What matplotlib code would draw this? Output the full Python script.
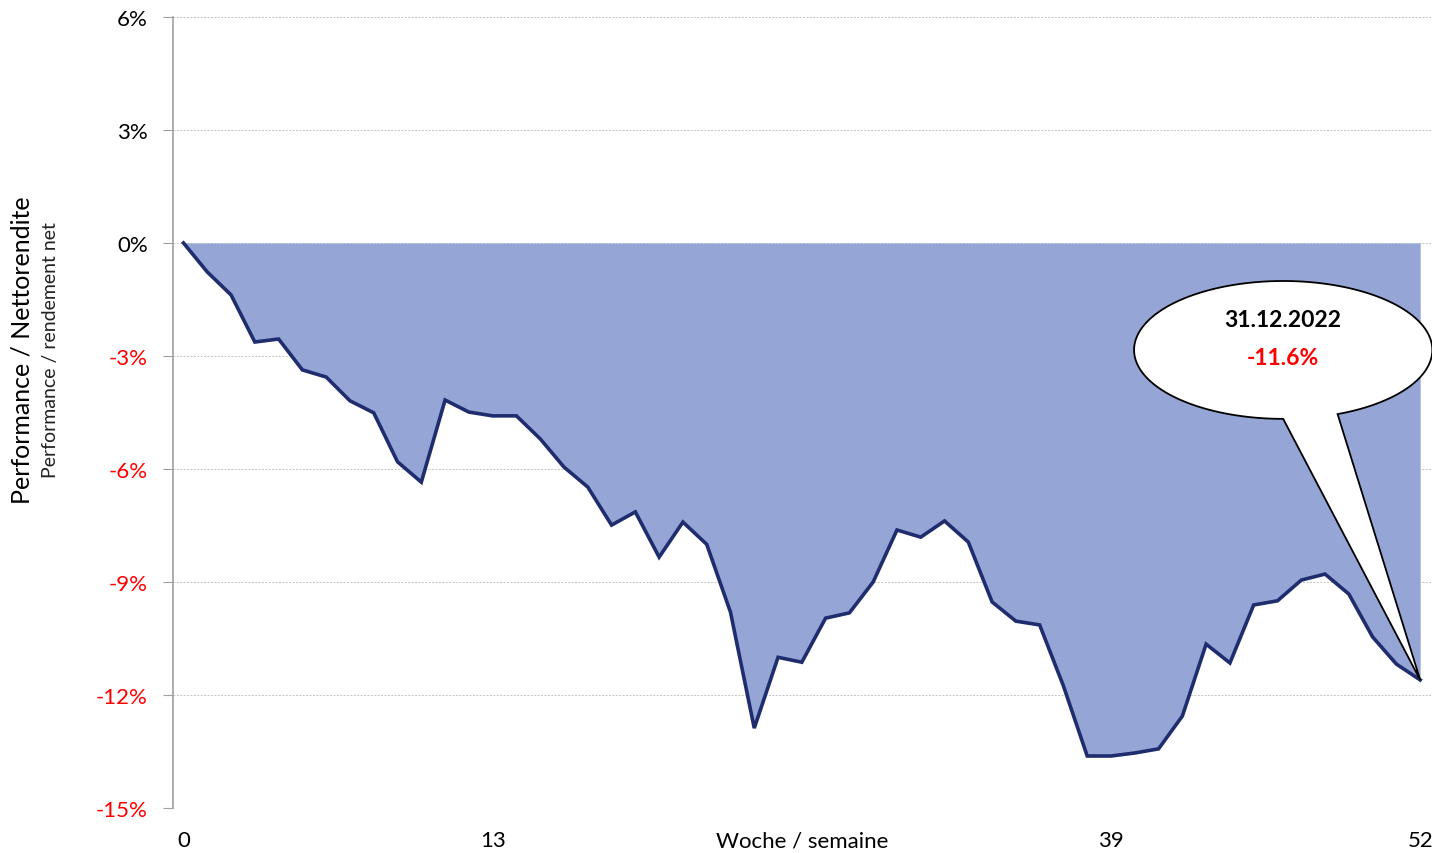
import matplotlib
matplotlib.use("Agg")
import matplotlib.pyplot as plt
from matplotlib.patches import Polygon
import numpy as np

plt.rcParams['font.family'] = ['Lato', 'DejaVu Sans']

# weekly performance in %, week 0..52
weeks = list(range(53))
perf = [0.0, -0.77, -1.38, -2.63, -2.55, -3.37, -3.56, -4.19, -4.51, -5.81,
        -6.35, -4.17, -4.49, -4.59, -4.59, -5.20, -5.95, -6.48, -7.49, -7.14,
        -8.34, -7.41, -8.00, -9.80, -12.88, -11.00, -11.13, -9.96, -9.82, -9.00,
        -7.62, -7.81, -7.38, -7.94, -9.53, -10.04, -10.14, -11.76, -13.62, -13.62,
        -13.54, -13.43, -12.56, -10.65, -11.15, -9.61, -9.50, -8.95, -8.79, -9.32,
        -10.46, -11.18, -11.60]
yticks = [-15, -12, -9, -6, -3, 0, 3, 6]
xticks = [0, 13, 39, 52]
callout_date = "31.12.2022"
callout_value = "-11.6%"

fill_col = "#95a6d6"
line_col = "#1f2d6e"

fig = plt.figure(figsize=(14.41, 8.54), dpi=100)
ax = fig.add_axes([0.1199, 0.0527, 0.8739, 0.9263])

ax.fill_between(weeks, perf, 0, color=fill_col, lw=0, zorder=2)
ax.plot(weeks, perf, color=line_col, lw=2.6, zorder=3, solid_joinstyle='miter')

ax.set_xlim(-0.45, 52.5)
ax.set_ylim(-15, 6)
ax.set_yticks(yticks)
ax.set_yticklabels([f"{v}%" for v in yticks], fontsize=16)
for lab, v in zip(ax.get_yticklabels(), yticks):
    lab.set_color('red' if v < 0 else 'black')
ax.set_xticks(xticks)
ax.set_xticklabels([str(v) for v in xticks], fontsize=16)
ax.tick_params(axis='x', length=0, pad=16)
ax.tick_params(axis='y', length=7, color='#a0a0a0', pad=11)
ax.grid(axis='y', color='#c4c4c4', linestyle=(0, (2, 1.5)), lw=0.7, zorder=1)

for s in ['top', 'right', 'bottom']:
    ax.spines[s].set_visible(False)
ax.spines['left'].set_color('#a0a0a0')
ax.spines['left'].set_linewidth(1.2)

ax.annotate("Woche / semaine", xy=(26, -15), xytext=(0, -16),
            textcoords='offset points', fontsize=16, ha='center', va='top')

fig.text(0.0155, 0.59, "Performance / Nettorendite", rotation=90, fontsize=18,
         ha='center', va='center')
fig.text(0.035, 0.59, "Performance / rendement net", rotation=90, fontsize=14,
         ha='center', va='center', color='#222222')

# speech-bubble callout pointing at the last point
cx, cy, a, b = 46.24, -2.84, 6.27, 1.83
t = np.radians(np.linspace(291.4, 270 + 360, 200))
pts = np.column_stack([cx + a * np.cos(t), cy + b * np.sin(t)])
pts = np.vstack([pts, [weeks[-1], perf[-1]]])
ax.add_patch(Polygon(pts, closed=True, facecolor='white', edgecolor='black',
                     lw=1.3, zorder=5, joinstyle='miter'))
ax.text(cx, -2.02, callout_date, fontsize=16.5, fontweight='bold', ha='center',
        va='center', zorder=6)
ax.text(cx, -3.05, callout_value, fontsize=16.5, fontweight='bold', color='red',
        ha='center', va='center', zorder=6)

fig.savefig("out.png", dpi=100)
